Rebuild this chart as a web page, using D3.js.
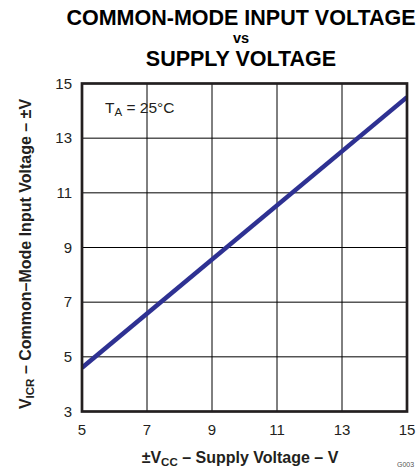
<!DOCTYPE html>
<html lang="en">
<head>
<meta charset="UTF-8">
<title>Common-Mode Input Voltage vs Supply Voltage</title>
<style>
  body { margin: 0; background: #fff; }
  text { font-family: "Liberation Sans", Arial, sans-serif; }
</style>
</head>
<body>
<script src="https://d3js.org/d3.v7.min.js"></script>
<script>
// data
let supply = [5, 15];
let vicr = [4.6, 14.5];
let xTicks = [5, 7, 9, 11, 13, 15];
let yTicks = [3, 5, 7, 9, 11, 13, 15];

let w = 420, h = 469;
let inner = {left: 82, right: 407, top: 83.5, bottom: 411.5};

let svg = d3.select("body").append("svg")
    .attr("width", w)
    .attr("height", h);

let x = d3.scaleLinear().domain([5, 15]).range([inner.left, inner.right]);
let y = d3.scaleLinear().domain([3, 15]).range([inner.bottom, inner.top]);

// grid lines
svg.append("g")
    .selectAll("line.vx")
    .data(xTicks.slice(1, -1))
    .enter().append("line")
    .attr("x1", d => x(d)).attr("x2", d => x(d))
    .attr("y1", inner.top).attr("y2", inner.bottom)
    .attr("stroke", "#000").attr("stroke-width", 1);

svg.append("g")
    .selectAll("line.hy")
    .data(yTicks.slice(1, -1))
    .enter().append("line")
    .attr("x1", inner.left).attr("x2", inner.right)
    .attr("y1", d => y(d)).attr("y2", d => y(d))
    .attr("stroke", "#000").attr("stroke-width", 1);

// tick labels
svg.append("g")
    .selectAll("text")
    .data(xTicks)
    .enter().append("text")
    .attr("x", d => x(d))
    .attr("y", 435)
    .attr("text-anchor", "middle")
    .style("font-size", "15px")
    .style("fill", "#231f20")
    .text(d => d);

svg.append("g")
    .selectAll("text")
    .data(yTicks)
    .enter().append("text")
    .attr("x", 72)
    .attr("y", d => y(d) + 5)
    .attr("text-anchor", "end")
    .style("font-size", "15px")
    .style("fill", "#231f20")
    .text(d => d);

// clip for the curve
svg.append("clipPath").attr("id", "plot")
    .append("rect")
    .attr("x", inner.left).attr("y", inner.top)
    .attr("width", inner.right - inner.left)
    .attr("height", inner.bottom - inner.top);

let line = d3.line()
    .x(d => x(d[0]))
    .y(d => y(d[1]));

svg.append("path")
    .attr("d", line(supply.map((s, i) => [s, vicr[i]])))
    .attr("clip-path", "url(#plot)")
    .attr("fill", "none")
    .attr("stroke", "#2e3192")
    .attr("stroke-width", 4.5);

// frame
svg.append("rect")
    .attr("x", inner.left).attr("y", inner.top)
    .attr("width", inner.right - inner.left)
    .attr("height", inner.bottom - inner.top)
    .attr("fill", "none")
    .attr("stroke", "#231f20")
    .attr("stroke-width", 2.7);

// title
let title = ["COMMON-MODE INPUT VOLTAGE", "vs", "SUPPLY VOLTAGE"];
let titleY = [24.5, 42.5, 65.5];
title.forEach((t, i) => {
    svg.append("text")
        .attr("x", 241)
        .attr("y", titleY[i])
        .attr("text-anchor", "middle")
        .style("font-size", i === 1 ? "14.5px" : "21.5px")
        .style("font-weight", "bold")
        .style("fill", "#000")
        .text(t);
});

// annotation
let ta = svg.append("text")
    .attr("x", 105).attr("y", 113)
    .style("font-size", "15.5px")
    .style("fill", "#231f20");
ta.append("tspan").text("T");
ta.append("tspan").attr("dy", 3).style("font-size", "11.5px").text("A");
ta.append("tspan").attr("dy", -3).text(" = 25°C");

// x axis title
let xt = svg.append("text")
    .attr("x", 240).attr("y", 463)
    .attr("text-anchor", "middle")
    .style("font-size", "16px")
    .style("font-weight", "bold")
    .style("fill", "#231f20");
xt.append("tspan").text("±V");
xt.append("tspan").attr("dy", 3).style("font-size", "11.5px").text("CC");
xt.append("tspan").attr("dy", -3).text(" – Supply Voltage – V");

// y axis title
let yt = svg.append("text")
    .attr("transform", "translate(31," + 254 + ") rotate(-90)")
    .attr("text-anchor", "middle")
    .style("font-size", "16px")
    .style("font-weight", "bold")
    .style("fill", "#231f20");
yt.append("tspan").text("V");
yt.append("tspan").attr("dy", 3).style("font-size", "11.5px").text("ICR");
yt.append("tspan").attr("dy", -3).text(" – Common–Mode Input Voltage – ±V");

// figure code in the corner
svg.append("text")
    .attr("x", 397).attr("y", 467)
    .style("font-size", "7px")
    .style("fill", "#555")
    .text("G003");
</script>
</body>
</html>
